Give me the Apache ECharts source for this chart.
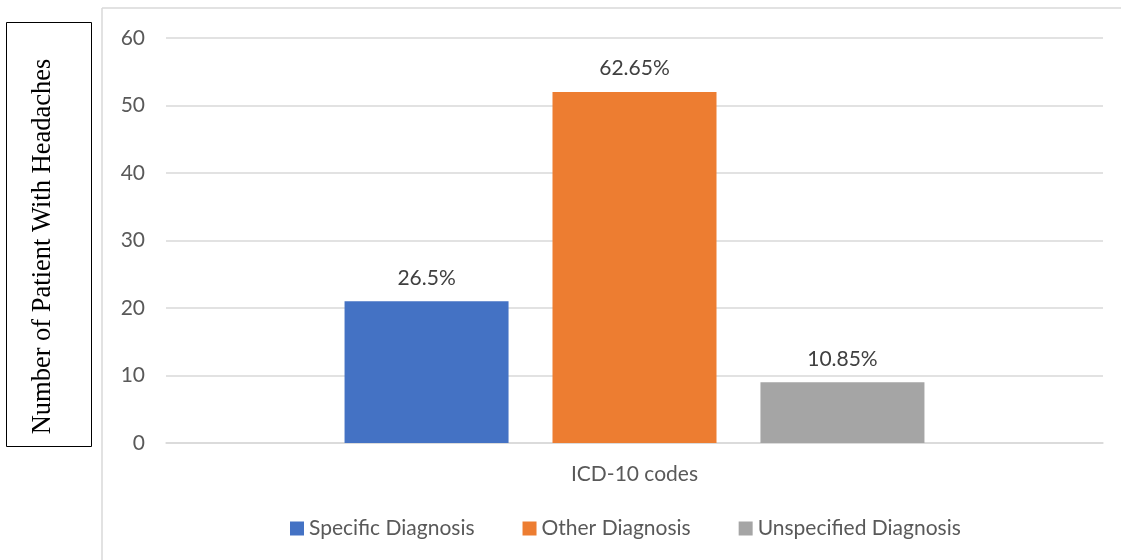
<!DOCTYPE html>
<html>
<head>
<meta charset="utf-8">
<script src="https://cdn.jsdelivr.net/npm/echarts@6/dist/echarts.min.js"></script>
<style>
  html, body { margin: 0; padding: 0; background: #fff; }
  #chart { width: 1121px; height: 560px; }
</style>
</head>
<body>
<div id="chart"></div>
<script>
// Headache patients grouped by ICD-10 code type
const categories = ['ICD-10 codes'];
const seriesNames = ['Specific Diagnosis', 'Other Diagnosis', 'Unspecified Diagnosis'];
const seriesValues = [21, 52, 9];
const shareLabels = ['26.5%', '62.65%', '10.85%'];
const seriesColors = ['#4472C4', '#ED7D31', '#A5A5A5'];
const yTicks = { min: 0, max: 60, interval: 10 };
const yTitle = 'Number of Patient With Headaches';

const chart = echarts.init(document.getElementById('chart'));
const textFont = 'Lato';
const textSize = 21;

chart.setOption({
  animation: false,
  grid: { left: 166, right: 18, top: 38, bottom: 117 },
  legend: {
    top: 513,
    left: 285,
    itemWidth: 14,
    itemHeight: 14,
    itemGap: 48,
    icon: 'rect',
    textStyle: { fontFamily: textFont, fontSize: textSize, color: '#595959' },
    data: seriesNames
  },
  xAxis: {
    type: 'category',
    data: categories,
    axisLine: { lineStyle: { color: '#D9D9D9', width: 1.5 } },
    axisTick: { show: false },
    axisLabel: { fontFamily: textFont, fontSize: textSize, color: '#595959', margin: 21 }
  },
  yAxis: {
    type: 'value',
    min: yTicks.min,
    max: yTicks.max,
    interval: yTicks.interval,
    axisLine: { show: false },
    axisTick: { show: false },
    splitLine: { lineStyle: { color: '#D9D9D9', width: 1.5 } },
    axisLabel: { fontFamily: textFont, fontSize: textSize, color: '#595959', margin: 21 }
  },
  series: seriesNames.map((name, i) => ({
    name: name,
    type: 'bar',
    barWidth: 164,
    barGap: '26.8%',
    data: [seriesValues[i]],
    itemStyle: { color: seriesColors[i] },
    label: {
      show: true,
      position: 'top',
      distance: 13,
      formatter: () => shareLabels[i],
      fontFamily: textFont,
      fontSize: textSize,
      color: '#404040'
    }
  })),
  graphic: [
    // chart frame (left and top edges)
    { type: 'line', shape: { x1: 102, y1: 8, x2: 102, y2: 560 }, style: { stroke: '#D9D9D9', lineWidth: 1.5 } },
    { type: 'line', shape: { x1: 102, y1: 8, x2: 1121, y2: 8 }, style: { stroke: '#D9D9D9', lineWidth: 1.5 } },
    // boxed vertical axis title
    { type: 'rect', shape: { x: 6.5, y: 22.5, width: 85, height: 424 }, style: { fill: '#fff', stroke: '#000', lineWidth: 1 } },
    {
      type: 'text',
      x: 43, y: 246.5,
      rotation: Math.PI / 2,
      style: {
        text: yTitle,
        fontFamily: 'Liberation Serif',
        fontSize: 26.5,
        fill: '#000',
        align: 'center',
        verticalAlign: 'middle'
      }
    }
  ]
});
</script>
</body>
</html>
